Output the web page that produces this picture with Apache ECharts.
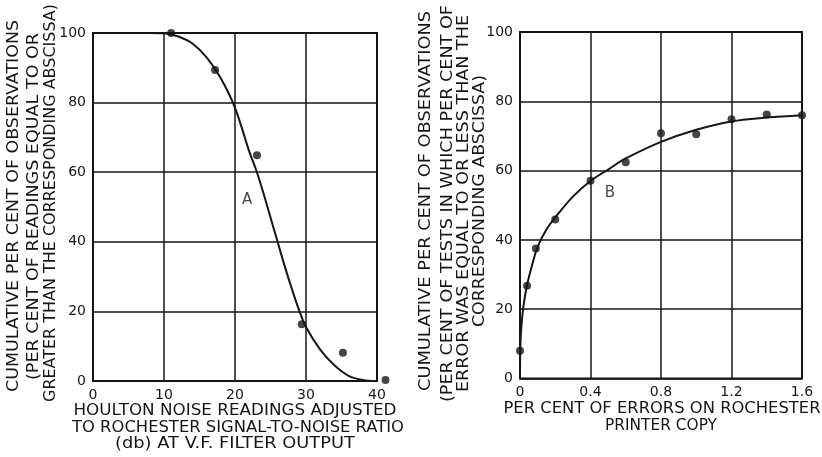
<!DOCTYPE html>
<html>
<head>
<meta charset="utf-8">
<script src="https://cdn.jsdelivr.net/npm/echarts@6/dist/echarts.min.js"></script>
<style>
html,body{margin:0;padding:0;background:#fff;}
#c{width:822px;height:457px;}
</style>
</head>
<body>
<div id="c"></div>
<script>
// ---- Left chart (A) data ----
const pointsA_x = [11, 17.2, 23.1, 29.4, 35.2, 41.2];
const pointsA_y = [100, 89.4, 64.9, 16.3, 8.1, 0.3];
const curveA_x = [8, 10, 12, 14, 16, 18, 20, 22, 23, 24, 25, 26, 27, 28, 29, 30, 32, 34, 36, 38, 40];
const curveA_y = [100, 99.9, 99, 97, 93, 87, 78.5, 66, 60.5, 54, 47, 40, 33, 26.5, 20.5, 15.5, 9, 4.5, 1.5, 0.3, 0];
const xTicksA = [0, 10, 20, 30, 40];
const yTicks = [0, 20, 40, 60, 80, 100];

// ---- Right chart (B) data ----
const pointsB_x = [0, 0.04, 0.09, 0.2, 0.4, 0.6, 0.8, 1.0, 1.2, 1.4, 1.6];
const pointsB_y = [8, 26.8, 37.5, 45.9, 57.1, 62.4, 70.8, 70.5, 74.8, 76.2, 76.0];
const curveB_x = [0, 0.002, 0.008, 0.02, 0.04, 0.07, 0.1, 0.15, 0.2, 0.3, 0.4, 0.5, 0.6, 0.8, 1.0, 1.2, 1.4, 1.6];
const curveB_y = [0, 9, 15, 21, 27, 33, 38, 43, 46.5, 52.5, 57, 60.3, 63.5, 68.3, 71.8, 74.2, 75.3, 76];
const xTicksB = ['0', '0.4', '0.8', '1.2', '1.6'];

const labelA = {text: 'A', x: 21.7, y: 52};
const labelB = {text: 'B', x: 0.51, y: 53.4};

const yTitleA = ['CUMULATIVE PER CENT OF OBSERVATIONS', '(PER CENT OF READINGS EQUAL TO OR', 'GREATER THAN THE CORRESPONDING ABSCISSA)'];
const yTitleB = ['CUMULATIVE PER CENT OF OBSERVATIONS', '(PER CENT OF TESTS IN WHICH PER CENT OF', 'ERROR WAS EQUAL TO OR LESS THAN THE', 'CORRESPONDING ABSCISSA)'];
const xTitleA = ['HOULTON NOISE READINGS ADJUSTED', 'TO ROCHESTER SIGNAL-TO-NOISE RATIO', '(db) AT V.F. FILTER OUTPUT'];
const xTitleB = ['PER CENT OF ERRORS ON ROCHESTER', 'PRINTER COPY'];

const FONT = 'DejaVu Sans';
const INK = '#161616';
const TITLE_FONT = '15px "' + FONT + '"';

const zip = (xs, ys) => xs.map((x, i) => [x, ys[i]]);

const chart = echarts.init(document.getElementById('c'), null, {renderer: 'canvas'});

const mctx = document.createElement('canvas').getContext('2d');
mctx.font = TITLE_FONT;
function titleText(t, x, y, len, vertical) {
  const w = mctx.measureText(t).width;
  return {
    type: 'text', x: x, y: y, rotation: vertical ? Math.PI / 2 : 0,
    scaleX: len / w, scaleY: 1,
    style: {text: t, fill: INK, font: TITLE_FONT, align: 'center', verticalAlign: 'middle'}
  };
}

function axisX(idx, min, max, interval, fmt) {
  return {
    type: 'value', gridIndex: idx, min: min, max: max, interval: interval,
    axisLine: {show: false}, axisTick: {show: false},
    splitLine: {show: true, lineStyle: {color: INK, width: 1.5}},
    axisLabel: {color: INK, fontFamily: FONT, fontSize: 14, margin: 7, formatter: fmt}
  };
}
function axisY(idx) {
  return {
    type: 'value', gridIndex: idx, min: 0, max: 100, interval: 20,
    axisLine: {show: false}, axisTick: {show: false},
    splitLine: {show: true, lineStyle: {color: INK, width: 1.5}},
    axisLabel: {color: INK, fontFamily: FONT, fontSize: 14, margin: 7}
  };
}

const graphics = [];
// left y titles: [x, centerY, length]
[[14, 206, 372], [34, 206.5, 347], [51, 203, 398]].forEach((p, i) =>
  graphics.push(titleText(yTitleA[i], p[0], p[1], p[2], true)));
[[426, 201, 380], [448, 203.5, 397], [464, 203.5, 377], [480, 201, 252]].forEach((p, i) =>
  graphics.push(titleText(yTitleB[i], p[0], p[1], p[2], true)));
[[235, 411.5, 323], [238, 428, 332], [235, 444.5, 240]].forEach((p, i) =>
  graphics.push(titleText(xTitleA[i], p[0], p[1], p[2], false)));
[[662, 409.5, 317], [661, 426, 112]].forEach((p, i) =>
  graphics.push(titleText(xTitleB[i], p[0], p[1], p[2], false)));

chart.setOption({
  backgroundColor: '#fff',
  animation: false,
  grid: [
    {left: 93, right: 822 - 377, top: 33, bottom: 457 - 381, show: true, borderColor: INK, borderWidth: 2, backgroundColor: 'transparent'},
    {left: 520, right: 822 - 802, top: 32, bottom: 457 - 378.5, show: true, borderColor: INK, borderWidth: 2, backgroundColor: 'transparent'}
  ],
  xAxis: [
    axisX(0, 0, 40, 10, null),
    axisX(1, 0, 1.6, 0.4, function (v) { return xTicksB[Math.round(v / 0.4)]; })
  ],
  yAxis: [axisY(0), axisY(1)],
  graphic: graphics,
  series: [
    {type: 'line', xAxisIndex: 0, yAxisIndex: 0, data: zip(curveA_x, curveA_y), smooth: 0.35,
     showSymbol: false, lineStyle: {color: INK, width: 2}},
    {type: 'scatter', xAxisIndex: 0, yAxisIndex: 0, data: zip(pointsA_x, pointsA_y), symbolSize: 8,
     itemStyle: {color: INK}, clip: false},
    {type: 'scatter', xAxisIndex: 0, yAxisIndex: 0, data: [[labelA.x, labelA.y]], symbolSize: 0,
     label: {show: true, position: 'inside', formatter: labelA.text, color: INK, fontFamily: FONT, fontSize: 15}},
    {type: 'line', xAxisIndex: 1, yAxisIndex: 1, data: zip(curveB_x, curveB_y), smooth: 0.35,
     showSymbol: false, lineStyle: {color: INK, width: 2}},
    {type: 'scatter', xAxisIndex: 1, yAxisIndex: 1, data: zip(pointsB_x, pointsB_y), symbolSize: 8,
     itemStyle: {color: INK}, clip: false},
    {type: 'scatter', xAxisIndex: 1, yAxisIndex: 1, data: [[labelB.x, labelB.y]], symbolSize: 0,
     label: {show: true, position: 'inside', formatter: labelB.text, color: INK, fontFamily: FONT, fontSize: 15}}
  ]
});
</script>
</body>
</html>
